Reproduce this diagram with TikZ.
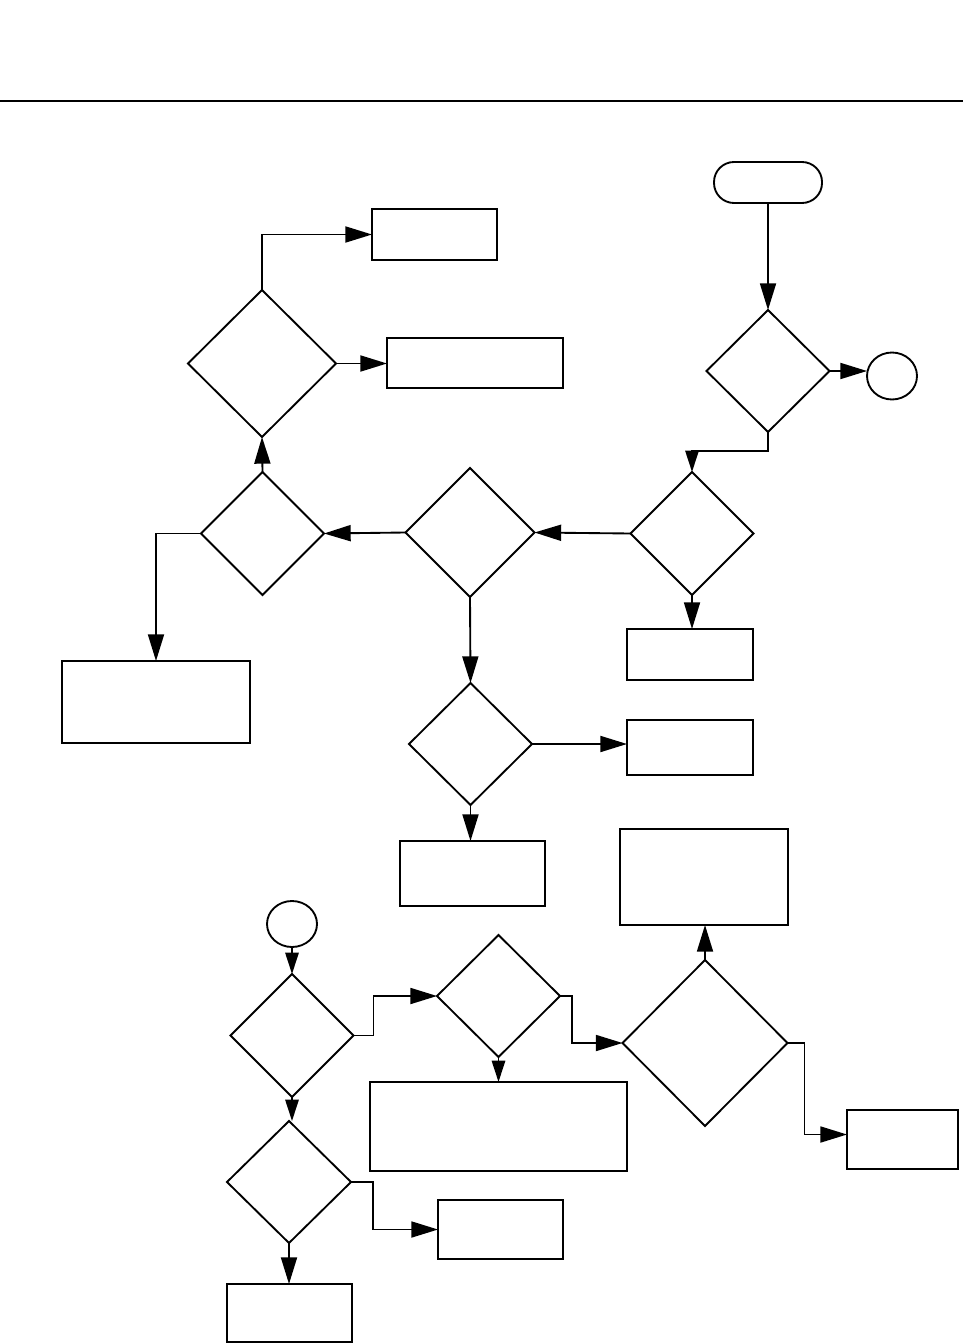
\documentclass[tikz,border=0pt]{standalone}
\usetikzlibrary{shapes.geometric,arrows.meta,calc}
\begin{document}
\begin{tikzpicture}[x=0.75pt,y=-0.75pt,line width=1.4pt,
  dia/.style 2 args={draw,diamond,inner sep=0pt,outer sep=0pt,minimum width=#1*0.75pt,minimum height=#2*0.75pt},
  box/.style 2 args={draw,rectangle,inner sep=0pt,outer sep=0pt,minimum width=#1*0.75pt,minimum height=#2*0.75pt},
  oval/.style 2 args={draw,ellipse,inner sep=0pt,outer sep=0pt,minimum width=#1*0.75pt,minimum height=#2*0.75pt},
  term/.style 2 args={draw,rectangle,rounded corners=15pt,inner sep=0pt,outer sep=0pt,minimum width=#1*0.75pt,minimum height=#2*0.75pt},
  arr/.style={-{Triangle[length=20pt,width=12pt]}},
  sarr/.style={-{Triangle[length=16pt,width=10pt]}}]
\useasboundingbox (0,0) rectangle (965,1344);
% top rule
\draw (0,101) -- (963,101);
% nodes
\node[term={108}{41}] (T) at (768,182.5) {};
\node[dia={123}{122}] (D1) at (768,371) {};
\node[oval={50}{47}] (C1) at (892,376) {};
\node[dia={123}{123}] (D2) at (692,533.5) {};
\node[dia={129}{129}] (D3) at (470,532.5) {};
\node[dia={123}{123}] (D4) at (262.5,533.5) {};
\node[dia={148}{147}] (D5) at (262,363.5) {};
\node[box={125}{51}] (B1) at (434.5,234.5) {};
\node[box={176}{50}] (B2) at (475,363) {};
\node[box={188}{82}] (B3) at (156,702) {};
\node[box={126}{51}] (B4) at (690,654.5) {};
\node[dia={123}{122}] (D6) at (470.5,744) {};
\node[box={126}{55}] (B5) at (690,747.5) {};
\node[box={145}{65}] (B6) at (472.5,873.5) {};
\node[box={168}{96}] (B7) at (704,877) {};
\node[dia={165}{166}] (D7) at (705,1043) {};
\node[box={111}{59}] (B8) at (902.5,1139.5) {};
\node[oval={50}{46}] (C2) at (292,924) {};
\node[dia={123}{123}] (D8) at (292,1035.5) {};
\node[dia={123}{122}] (D9) at (498.5,996) {};
\node[box={257}{89}] (B9) at (498.5,1126.5) {};
\node[dia={124}{122}] (D10) at (289,1182) {};
\node[box={125}{59}] (B10) at (500.5,1229.5) {};
\node[box={125}{58}] (B11) at (289.5,1313) {};
% connectors
\draw[arr] (T.south) -- (D1.north);
\draw[arr] (D1.east) -- (D1.east -| C1.west);
\draw[sarr] (D1.south) -- ++(0,19) -| (D2.north);
\draw[arr] (D2.west) -- (D3.east);
\draw[arr] (D3.west) -- (D4.east);
\draw[arr] (D4.north) -- (D5.south);
\draw[arr] (D5.north) |- (B1.west);
\draw[arr] (D5.east) -- (D5.east -| B2.west);
\draw[arr] (D4.west) -| (B3.north);
\draw[arr] (D2.south) -- (D2.south |- B4.north);
\draw[arr] (D3.south) -- (D6.north);
\draw[arr] (D6.east) -- (D6.east -| B5.west);
\draw[arr] (D6.south) -- (D6.south |- B6.north);
\draw[arr] (D7.north) -- (D7.north |- B7.south);
\draw[arr] (D7.east) -- ++(17,0) |- ($(B8.west)+(0,-5)$);
\draw[sarr] (C2.south) -- (D8.north);
\draw[arr] (D8.east) -- ++(20,0) |- (D9.west);
\draw[arr] (D9.east) -- ++(12,0) |- (D7.west);
\draw[sarr] (D9.south) -- (D9.south |- B9.north);
\draw[sarr] (D8.south) -- (D8.south |- D10.north);
\draw[arr] (D10.east) -- ++(22,0) |- (B10.west);
\draw[arr] (D10.south) -- (D10.south |- B11.north);
\end{tikzpicture}
\end{document}
